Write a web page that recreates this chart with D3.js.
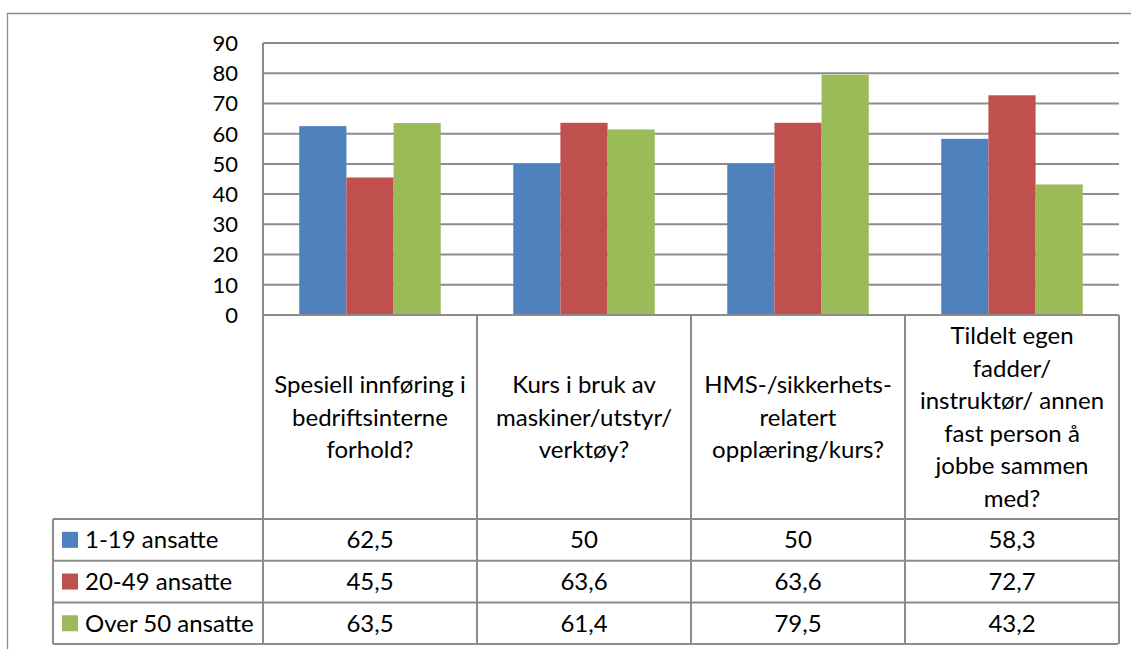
<!DOCTYPE html>
<html>
<head>
<meta charset="utf-8">
<script src="https://cdn.jsdelivr.net/npm/d3@7"></script>
<style>
  html, body { margin: 0; padding: 0; background: #fff; }
  svg { display: block; }
  text { font-family: Lato, "Open Sans", sans-serif; fill: #000; }
</style>
</head>
<body>
<svg id="chart" width="1131" height="649"></svg>
<script>
// Question categories (x axis labels, split into lines)
const categories = [
  ["Spesiell innføring i", "bedriftsinterne", "forhold?"],
  ["Kurs i bruk av", "maskiner/utstyr/", "verktøy?"],
  ["HMS-/sikkerhets-", "relatert", "opplæring/kurs?"],
  ["Tildelt egen", "fadder/", "instruktør/ annen", "fast person å", "jobbe sammen", "med?"]
];
// Series by company size (percent)
const seriesNames = ["1-19 ansatte", "20-49 ansatte", "Over 50 ansatte"];
const series1 = [62.5, 50, 50, 58.3];
const series2 = [45.5, 63.6, 63.6, 72.7];
const series3 = [63.5, 61.4, 79.5, 43.2];
const valueLabels = [
  ["62,5", "50", "50", "58,3"],
  ["45,5", "63,6", "63,6", "72,7"],
  ["63,5", "61,4", "79,5", "43,2"]
];
const yTicks = [0, 10, 20, 30, 40, 50, 60, 70, 80, 90];
const colors = ["#4F81BD", "#C0504D", "#9BBB59"];

const values = [series1, series2, series3];
const svg = d3.select("#chart");
const grid = "#8c8c8c";

// Plot area geometry
const plotL = 263, plotR = 1119, plotT = 43, plotB = 315;
const tableLeft = 53, tableRight = 1118;
const labelBottom = 519, rowH = 41.7;

const catIdx = d3.range(categories.length);
const x = d3.scaleBand().domain(catIdx).range([plotL, plotL + 4 * 214]).paddingInner(0).paddingOuter(0);
const groupW = 141.5;
const xs = d3.scaleBand().domain(d3.range(3)).range([0, groupW]);
const y = d3.scaleLinear().domain([0, 90]).range([plotB, plotT]);

// Outer frame
svg.append("path")
  .attr("d", `M7.5,649 V13.5 H1131`)
  .attr("fill", "none").attr("stroke", "#8c8c8c").attr("stroke-width", 1.3);

// Gridlines
svg.append("g").selectAll("line").data(yTicks).join("line")
  .attr("x1", plotL).attr("x2", plotR)
  .attr("y1", d => y(d)).attr("y2", d => y(d))
  .attr("stroke", grid).attr("stroke-width", 2);

// Y tick labels
svg.append("g").selectAll("text").data(yTicks).join("text")
  .attr("x", 238).attr("y", d => y(d))
  .attr("dy", "0.36em")
  .attr("text-anchor", "end")
  .attr("font-size", 22)
  .text(d => d);

// Bars
const groups = svg.append("g").selectAll("g").data(catIdx).join("g")
  .attr("transform", i => `translate(${x(i) + (x.bandwidth() - groupW) / 2},0)`);
groups.selectAll("rect").data(i => values.map((s, k) => ({ k, v: s[i] }))).join("rect")
  .attr("x", d => xs(d.k))
  .attr("width", xs.bandwidth())
  .attr("y", d => y(d.v))
  .attr("height", d => y(0) - y(d.v))
  .attr("fill", d => colors[d.k]);

// Axis line at zero drawn above bars
svg.append("line").attr("x1", plotL).attr("x2", plotR)
  .attr("y1", y(0)).attr("y2", y(0)).attr("stroke", grid).attr("stroke-width", 2);

// Data table: vertical dividers
const colEdges = [plotL].concat(catIdx.map(i => x(i) + x.bandwidth()));
svg.append("g").selectAll("line").data(colEdges).join("line")
  .attr("x1", d => d).attr("x2", d => d)
  .attr("y1", (d, i) => i === 0 ? plotT : plotB)
  .attr("y2", labelBottom + 3 * rowH)
  .attr("stroke", grid).attr("stroke-width", 2);
// Legend column left edge
svg.append("line").attr("x1", tableLeft).attr("x2", tableLeft)
  .attr("y1", labelBottom).attr("y2", labelBottom + 3 * rowH)
  .attr("stroke", grid).attr("stroke-width", 2);
// Row lines
svg.append("g").selectAll("line").data(d3.range(4)).join("line")
  .attr("x1", tableLeft).attr("x2", tableRight)
  .attr("y1", r => labelBottom + r * rowH).attr("y2", r => labelBottom + r * rowH)
  .attr("stroke", grid).attr("stroke-width", 2);

// Category labels
const lineH = 32.5;
const labelCenter = (plotB + labelBottom) / 2;
svg.append("g").selectAll("text").data(catIdx).join("text")
  .attr("text-anchor", "middle")
  .attr("font-size", 24)
  .each(function (i) {
    const lines = categories[i];
    const t = d3.select(this);
    const y0 = labelCenter - (lines.length - 1) * lineH / 2;
    lines.forEach((l, j) => {
      t.append("tspan")
        .attr("x", x(i) + x.bandwidth() / 2)
        .attr("y", y0 + j * lineH)
        .attr("dy", "0.36em")
        .text(l);
    });
  });

// Legend rows with key squares
const rows = svg.append("g").selectAll("g").data(d3.range(3)).join("g")
  .attr("transform", r => `translate(0,${labelBottom + r * rowH + rowH / 2})`);
rows.append("rect").attr("x", 62).attr("y", -8).attr("width", 16).attr("height", 16)
  .attr("fill", r => colors[r]);
rows.append("text").attr("x", 85).attr("dy", "0.36em").attr("font-size", 24)
  .text(r => seriesNames[r]);
rows.selectAll("text.v").data(r => catIdx.map(i => valueLabels[r][i])).join("text")
  .attr("class", "v")
  .attr("x", (d, i) => x(i) + x.bandwidth() / 2)
  .attr("dy", "0.36em")
  .attr("text-anchor", "middle")
  .attr("font-size", 24)
  .text(d => d);
</script>
</body>
</html>
